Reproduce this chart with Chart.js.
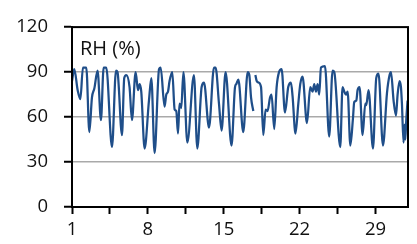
<!DOCTYPE html>
<html>
<head>
<meta charset="utf-8">
<script src="https://cdn.jsdelivr.net/npm/chart.js@4.4.1/dist/chart.umd.min.js"></script>
<style>
  html, body { margin: 0; padding: 0; background: #fff; }
  #wrap { width: 417px; height: 244px; }
</style>
</head>
<body>
<div id="wrap"><canvas id="rhChart" width="417" height="244"></canvas></div>
<script>
// ===============================
// DATA (day of month, relative humidity %)
// ===============================
const rhDays = [
    1.00, 1.21, 1.52, 1.77, 2.01, 2.32, 2.60, 2.84, 3.06, 3.36,
    3.67, 3.92, 4.16, 4.69, 5.06, 5.20, 5.61, 5.82, 6.01, 6.31,
    6.53, 6.87, 7.09, 7.24, 7.39, 7.70, 8.10, 8.32, 8.62, 9.03,
    9.18, 9.54, 9.70, 9.86, 10.00, 10.25, 10.47, 10.62, 10.78, 10.92,
    11.08, 11.28, 11.64, 12.25, 12.56, 12.96, 13.18, 13.64, 14.10, 14.25,
    14.56, 14.80, 15.17, 15.72, 16.04, 16.16, 16.35, 16.80, 17.21, 17.36,
    17.52, 17.73, 17.82, 17.92, 18.04, 18.22, 18.44, 18.65, 18.86, 19.04,
    19.27, 19.41, 19.66, 19.88, 20.10, 20.34, 20.65, 20.95, 21.20, 21.35,
    21.62, 21.88, 22.06, 22.27, 22.68, 22.98, 23.20, 23.35, 23.51, 23.66,
    23.81, 23.97, 24.34, 24.73, 25.04, 25.20, 25.75, 25.96, 26.12, 26.28,
    26.43, 26.68, 26.92, 27.04, 27.23, 27.35, 27.53, 27.81, 28.06, 28.15,
    28.36, 28.77, 29.07, 29.28, 29.69, 30.06, 30.30, 30.43, 30.67, 30.89,
    31.04, 31.22, 31.35, 31.44, 31.59, 31.68, 31.75, 31.84, 31.96
];

const rhValues = [
    84, 92, 78, 72, 93, 93, 50, 73, 79, 91,
    58, 93, 93, 40, 91, 90, 48, 86, 88, 80,
    58, 90, 78, 82, 77, 39, 71, 86, 36, 92,
    93, 67, 75, 77, 84, 90, 65, 64, 49, 69,
    66, 90, 43, 88, 39, 80, 83, 53, 93, 93,
    69, 51, 90, 41, 80, 82, 85, 50, 90, 88,
    73, 64, null, 88, 84, 83, 80, 48, 65, 64,
    73, 75, 52, 80, 90, 92, 63, 80, 83, 74,
    49, 69, 82, 87, 56, 80, 77, 82, 77, 82,
    75, 93, 94, 47, 91, 90, 40, 80, 77, 75,
    77, 41, 59, 70, 71, 78, 80, 48, 69, 68,
    78, 39, 86, 89, 41, 76, 88, 90, 71, 61,
    75, 84, 80, 69, 43, 55, 45, 58, 71
];

const yTicks = [0, 30, 60, 90, 120];
const xTickValues = [1, 8, 15, 22, 29];
const xTickLabels = ["1", "8", "15", "22", "29"];
const seriesLabel = "RH (%)";

const FONT = "'Open Sans', 'Liberation Sans', sans-serif";

// ===============================
// PLUGINS
// ===============================
// black frame round the plot + "RH (%)" caption
const framePlugin = {
    id: "frame",
    afterDraw(chart) {
        const { ctx, chartArea } = chart;
        ctx.save();
        ctx.strokeStyle = "#000";
        ctx.lineWidth = 2;
        ctx.strokeRect(chartArea.left, chartArea.top,
            chartArea.right - chartArea.left, chartArea.bottom - chartArea.top);

        ctx.fillStyle = "#111";
        ctx.font = "20px " + FONT;
        ctx.textBaseline = "alphabetic";
        ctx.textAlign = "left";
        ctx.fillText(seriesLabel, chartArea.left + 8, chartArea.top + 28);
        ctx.restore();
    }
};

// ===============================
// CHART
// ===============================
const points = rhDays.map((d, i) => ({ x: d, y: rhValues[i] }));

new Chart(document.getElementById("rhChart").getContext("2d"), {
    type: "line",
    data: {
        datasets: [{
            label: seriesLabel,
            data: points,
            borderColor: "#1f4e89",
            borderWidth: 2.25,
            pointRadius: 0,
            cubicInterpolationMode: "monotone",
            spanGaps: false,
            fill: false
        }]
    },
    options: {
        responsive: false,
        animation: false,
        devicePixelRatio: 1,
        layout: { padding: { left: 8, right: 9, top: 18, bottom: 0 } },
        plugins: {
            legend: { display: false },
            tooltip: { enabled: false }
        },
        scales: {
            x: {
                type: "linear",
                min: 1,
                max: 32,
                afterBuildTicks(scale) {
                    const ticks = [];
                    xTickValues.forEach((v, i) => {
                        ticks.push({ value: v });
                        const next = xTickValues[i + 1];
                        if (next !== undefined) ticks.push({ value: (v + next) / 2 });
                    });
                    scale.ticks = ticks;
                },
                afterFit(scale) { scale.height = 37; },
                ticks: {
                    autoSkip: false,
                    maxRotation: 0,
                    padding: 5,
                    color: "#111",
                    font: { family: FONT, size: 18.5 },
                    callback(value) {
                        const i = xTickValues.indexOf(value);
                        return i >= 0 ? xTickLabels[i] : "";
                    }
                },
                grid: {
                    drawOnChartArea: false,
                    drawTicks: true,
                    tickLength: 7,
                    tickColor: "#000",
                    tickWidth: 2
                },
                border: { display: true, color: "#000", width: 2 }
            },
            y: {
                min: 0,
                max: 120,
                afterBuildTicks(scale) {
                    scale.ticks = yTicks.map(v => ({ value: v }));
                },
                afterFit(scale) { scale.width = 64; },
                ticks: {
                    padding: 16,
                    color: "#111",
                    font: { family: FONT, size: 18.5 }
                },
                grid: {
                    color: ctx => (ctx.tick && (ctx.tick.value === 0 || ctx.tick.value === 120)) ? "rgba(0,0,0,0)" : "#a9a9a9",
                    lineWidth: 1.5,
                    tickLength: 8,
                    tickColor: "#000",
                    tickWidth: 2
                },
                border: { display: true, color: "#000", width: 2 }
            }
        }
    },
    plugins: [framePlugin]
});
</script>
</body>
</html>
